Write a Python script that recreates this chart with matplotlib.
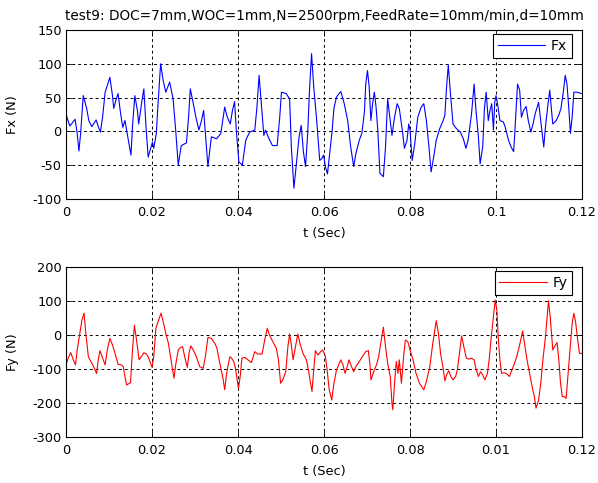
import matplotlib
matplotlib.use("Agg")
import matplotlib.pyplot as plt

# ---- data ----
t_fx = [0.0000, 0.0003, 0.0009, 0.0021, 0.0026, 0.0030, 0.0034, 0.0040, 0.0048, 0.0053,
        0.0060, 0.0070, 0.0075, 0.0080, 0.0085, 0.0091, 0.0102, 0.0108, 0.0111, 0.0116,
        0.0121, 0.0127, 0.0132, 0.0137, 0.0145, 0.0151, 0.0155, 0.0160, 0.0166, 0.0169,
        0.0176, 0.0181, 0.0186, 0.0191, 0.0197, 0.0201, 0.0204, 0.0210, 0.0214, 0.0220,
        0.0226, 0.0232, 0.0241, 0.0249, 0.0255, 0.0261, 0.0268, 0.0280, 0.0285, 0.0289,
        0.0296, 0.0302, 0.0309, 0.0315, 0.0320, 0.0324, 0.0330, 0.0338, 0.0350, 0.0360,
        0.0369, 0.0375, 0.0382, 0.0387, 0.0392, 0.0396, 0.0402, 0.0410, 0.0418, 0.0427,
        0.0439, 0.0444, 0.0449, 0.0454, 0.0460, 0.0464, 0.0470, 0.0480, 0.0491, 0.0497,
        0.0501, 0.0512, 0.0520, 0.0524, 0.0530, 0.0535, 0.0542, 0.0547, 0.0552, 0.0557,
        0.0562, 0.0566, 0.0571, 0.0576, 0.0583, 0.0590, 0.0595, 0.0599, 0.0603, 0.0608,
        0.0613, 0.0619, 0.0623, 0.0629, 0.0639, 0.0647, 0.0655, 0.0662, 0.0669, 0.0674,
        0.0682, 0.0688, 0.0694, 0.0697, 0.0701, 0.0705, 0.0709, 0.0713, 0.0717, 0.0721,
        0.0725, 0.0730, 0.0738, 0.0743, 0.0748, 0.0754, 0.0758, 0.0764, 0.0770, 0.0775,
        0.0782, 0.0787, 0.0793, 0.0797, 0.0800, 0.0805, 0.0811, 0.0818, 0.0826, 0.0832,
        0.0838, 0.0844, 0.0849, 0.0855, 0.0861, 0.0869, 0.0877, 0.0881, 0.0885, 0.0889,
        0.0894, 0.0900, 0.0908, 0.0917, 0.0924, 0.0930, 0.0935, 0.0943, 0.0949, 0.0953,
        0.0959, 0.0963, 0.0969, 0.0973, 0.0977, 0.0982, 0.0986, 0.0990, 0.0994, 0.0997,
        0.1000, 0.1004, 0.1009, 0.1017, 0.1021, 0.1029, 0.1035, 0.1041, 0.1044, 0.1050,
        0.1055, 0.1059, 0.1064, 0.1070, 0.1075, 0.1081, 0.1086, 0.1091, 0.1099, 0.1104,
        0.1111, 0.1115, 0.1121, 0.1125, 0.1129, 0.1132, 0.1140, 0.1147, 0.1151, 0.1156,
        0.1161, 0.1165, 0.1169, 0.1173, 0.1177, 0.1181, 0.1189, 0.1198, 0.1200]
fx = [26, 19, 8, 18, -3, -29, -3, 53, 34, 16,
      7, 17, 7, -1, 21, 58, 80, 53, 34, 46,
      56, 26, 6, 16, -13, -35, 11, 53, 31, 11,
      43, 63, 7, -38, -25, -16, -25, -3, 41, 100,
      75, 58, 73, 48, 2, -50, -21, -17, 21, 63,
      41, 21, 2, 16, 31, -3, -52, -8, -11, -3,
      36, 21, 11, 31, 44, 2, -45, -50, -13, -1,
      2, 36, 83, 43, -6, 2, -8, -21, -21, 21,
      58, 56, 48, -23, -84, -52, -8, 9, -30, -52,
      -3, 58, 115, 66, 16, -43, -40, -35, -52, -63,
      -33, 2, 34, 51, 59, 41, 16, -23, -52, -33,
      -13, -3, 29, 70, 90, 66, 16, 41, 58, 36,
      2, -62, -67, -23, 48, 16, -6, 21, 41, 34,
      2, -25, -13, 11, 2, -43, -18, 21, 36, 41,
      16, -23, -60, -38, -13, 4, 16, 24, 66, 98,
      56, 11, 4, -1, -11, -25, -13, 26, 70, 34,
      -8, -48, -23, 34, 58, 16, 31, 41, 2, 43,
      53, 39, 16, 14, 7, -13, -23, -30, 2, 70,
      61, 21, 31, 37, 16, -1, 11, 26, 43, 16,
      -23, 7, 41, 61, 31, 11, 16, 26, 34, 56,
      83, 70, 36, -3, 21, 58, 58, 56, 56]

t_fy = [0.0000, 0.0005, 0.0011, 0.0017, 0.0022, 0.0026, 0.0032, 0.0037, 0.0042, 0.0046,
        0.0052, 0.0060, 0.0066, 0.0071, 0.0075, 0.0079, 0.0084, 0.0091, 0.0096, 0.0102,
        0.0108, 0.0114, 0.0121, 0.0129, 0.0133, 0.0137, 0.0141, 0.0150, 0.0154, 0.0159,
        0.0164, 0.0170, 0.0176, 0.0181, 0.0187, 0.0191, 0.0195, 0.0200, 0.0204, 0.0209,
        0.0214, 0.0221, 0.0226, 0.0232, 0.0238, 0.0243, 0.0251, 0.0255, 0.0261, 0.0266,
        0.0271, 0.0276, 0.0282, 0.0286, 0.0290, 0.0296, 0.0303, 0.0311, 0.0319, 0.0324,
        0.0330, 0.0338, 0.0346, 0.0351, 0.0356, 0.0361, 0.0365, 0.0369, 0.0373, 0.0377,
        0.0381, 0.0385, 0.0390, 0.0394, 0.0398, 0.0401, 0.0405, 0.0409, 0.0416, 0.0423,
        0.0431, 0.0439, 0.0446, 0.0456, 0.0462, 0.0468, 0.0473, 0.0481, 0.0489, 0.0494,
        0.0499, 0.0504, 0.0511, 0.0516, 0.0520, 0.0524, 0.0528, 0.0533, 0.0539, 0.0545,
        0.0551, 0.0559, 0.0564, 0.0568, 0.0572, 0.0576, 0.0580, 0.0586, 0.0592, 0.0597,
        0.0603, 0.0607, 0.0612, 0.0618, 0.0623, 0.0629, 0.0634, 0.0639, 0.0644, 0.0649,
        0.0655, 0.0658, 0.0664, 0.0669, 0.0674, 0.0682, 0.0690, 0.0697, 0.0703, 0.0707,
        0.0709, 0.0713, 0.0717, 0.0722, 0.0727, 0.0733, 0.0738, 0.0743, 0.0748, 0.0754,
        0.0758, 0.0760, 0.0764, 0.0768, 0.0772, 0.0775, 0.0780, 0.0785, 0.0789, 0.0795,
        0.0800, 0.0807, 0.0814, 0.0822, 0.0832, 0.0838, 0.0846, 0.0853, 0.0861, 0.0866,
        0.0871, 0.0877, 0.0881, 0.0885, 0.0890, 0.0895, 0.0900, 0.0906, 0.0910, 0.0916,
        0.0920, 0.0925, 0.0931, 0.0937, 0.0943, 0.0949, 0.0953, 0.0959, 0.0964, 0.0969,
        0.0974, 0.0980, 0.0984, 0.0989, 0.0994, 0.0998, 0.1002, 0.1005, 0.1009, 0.1013,
        0.1019, 0.1025, 0.1031, 0.1037, 0.1043, 0.1048, 0.1054, 0.1062, 0.1065, 0.1072,
        0.1078, 0.1084, 0.1089, 0.1093, 0.1099, 0.1104, 0.1109, 0.1115, 0.1119, 0.1122,
        0.1126, 0.1132, 0.1136, 0.1142, 0.1146, 0.1150, 0.1154, 0.1158, 0.1163, 0.1167,
        0.1172, 0.1177, 0.1181, 0.1185, 0.1189, 0.1194, 0.1198, 0.1200]
fy = [-88, -68, -52, -73, -88, -44, 5, 44, 64, 5,
      -64, -83, -98, -113, -73, -46, -64, -88, -44, -10,
      -29, -54, -86, -88, -93, -122, -147, -140, -54, 29,
      -15, -73, -62, -52, -56, -64, -78, -95, -64, 20,
      39, 64, 39, 5, -24, -64, -127, -88, -44, -37,
      -34, -64, -95, -54, -32, -44, -64, -93, -98, -64,
      -7, -10, -24, -39, -73, -103, -127, -161, -117, -88,
      -64, -68, -78, -98, -132, -157, -122, -68, -66, -73,
      -81, -49, -56, -56, -15, 20, 0, -20, -39, -73,
      -142, -132, -108, -34, 3, -29, -73, -39, 3, -29,
      -54, -73, -105, -137, -166, -103, -46, -59, -49, -44,
      -62, -100, -161, -191, -142, -103, -88, -73, -88, -113,
      -88, -73, -93, -108, -93, -78, -62, -49, -46, -88,
      -132, -117, -103, -88, -64, -15, 23, -34, -83, -122,
      -201, -220, -142, -78, -113, -73, -142, -64, -15, -20,
      -44, -73, -113, -142, -161, -137, -93, -24, 42, 5,
      -54, -98, -135, -117, -105, -122, -132, -122, -103, -44,
      -3, -34, -68, -71, -68, -73, -98, -122, -108, -117,
      -132, -113, -73, -5, 54, 103, 73, -5, -73, -113,
      -111, -114, -122, -103, -83, -64, -34, 12, -15, -73,
      -113, -152, -181, -215, -191, -142, -73, -5, 54, 101,
      54, -44, -34, -22, -73, -142, -181, -181, -186, -122,
      -44, 34, 64, 39, -5, -54, -54, -54]

x_ticks = [0, 0.02, 0.04, 0.06, 0.08, 0.1, 0.12]
x_labels_top = ["0", "0.02", "0.04", "0.06", "0.08", "0.1", "0.12"]
x_labels_bottom = ["0", "0.02", "0.04", "0.06", "0.08", "0.01", "0.12"]
fx_ticks = [-100, -50, 0, 50, 100, 150]
fy_ticks = [-300, -200, -100, 0, 100, 200]
title = "test9: DOC=7mm,WOC=1mm,N=2500rpm,FeedRate=10mm/min,d=10mm"

plt.rcParams['font.family'] = ['DejaVu Sans']
FS = 9.3

fig = plt.figure(figsize=(5.98, 4.83), dpi=100)
ax1 = fig.add_axes([0.1104, 0.5880, 0.8629, 0.3499])
ax2 = fig.add_axes([0.1104, 0.0952, 0.8629, 0.3520])


def style(ax, yticks, xlabels, ylabel):
    ax.set_xlim(0, 0.12)
    ax.set_ylim(yticks[0], yticks[-1])
    ax.set_xticks(x_ticks)
    ax.set_xticklabels(xlabels)
    ax.set_yticks(yticks)
    ax.set_yticklabels([str(v) for v in yticks])
    ax.tick_params(direction='in', top=True, right=True, length=4, width=0.6,
                   labelsize=FS)
    ax.tick_params(axis='x', pad=5)
    ax.tick_params(axis='y', pad=3)
    ax.grid(True, color='black', linestyle=(0, (3, 3)), linewidth=0.7)
    for s in ax.spines.values():
        s.set_linewidth(0.8)
    ax.set_xlabel("t (Sec)", fontsize=FS)
    ax.set_ylabel(ylabel, fontsize=FS)
    ax.xaxis.set_label_coords(0.5, -0.165)
    ax.yaxis.set_label_coords(-0.092, 0.5)


def legend(ax):
    leg = ax.legend(loc='upper right', bbox_to_anchor=(1 - 10 / 516, 1 - 4 / 170),
                    borderaxespad=0, fontsize=10, fancybox=False, framealpha=1,
                    edgecolor='black', handlelength=3.4, handletextpad=0.4,
                    borderpad=0.35)
    leg.get_frame().set_linewidth(0.8)


ax1.plot(t_fx, fx, color='#0000ff', linewidth=0.8, label='Fx')
style(ax1, fx_ticks, x_labels_top, "Fx (N)")
ax1.set_title(title, fontsize=9.8, pad=7)
legend(ax1)

ax2.plot(t_fy, fy, color='#ff0000', linewidth=0.8, label='Fy')
style(ax2, fy_ticks, x_labels_bottom, "Fy (N)")
legend(ax2)

fig.savefig("out.png", dpi=100)
